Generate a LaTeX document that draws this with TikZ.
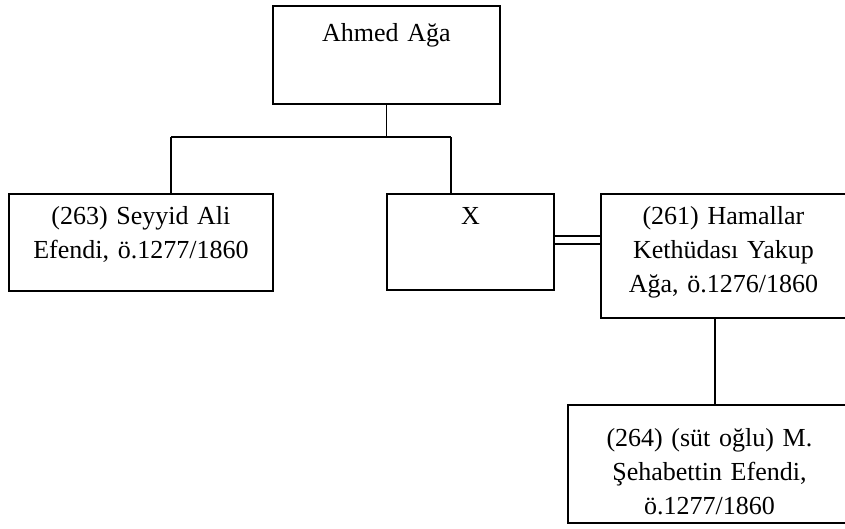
\documentclass[tikz,border=0pt]{standalone}
\usepackage{fontspec}
\setmainfont{Liberation Serif}
\usepackage{tikz}
\usetikzlibrary{positioning}
\tikzset{
    %Define style for family boxes
    kisi/.style={
           rectangle,
           draw=black,
           line width=1.8pt,
           anchor=north west,
           inner xsep=0pt,
           inner ysep=0pt,
           align=center,
           font=\fontsize{26}{34}\selectfont},
    % Define line style
    bag/.style={
           line width=1.8pt},
    evli/.style={
           line width=1.8pt,
           double,
           double distance=6.7pt}
}

\begin{document}
\begin{tikzpicture}[x=1pt,y=-1pt]
\useasboundingbox (0,0) rectangle (845,528);
\node[kisi, text width=227pt, text height=36pt, text depth=62pt](ahmed) at (272,5){Ahmed Ağa};
\node[kisi, text width=264pt, text height=31pt, text depth=66pt](seyyid) at (8,193){(263) Seyyid Ali\\Efendi, ö.1277/1860};
\node[kisi, text width=167pt, text height=31pt, text depth=65pt](x) at (386,193){X};
\node[kisi, text width=245pt, text height=31pt, text depth=93pt](yakup) at (600,193){(261) Hamallar\\Kethüdası Yakup\\Ağa, ö.1276/1860};
\node[kisi, text width=283pt, text height=42pt, text depth=76pt](sehab) at (567,404){(264) (süt oğlu) M.\\Şehabettin Efendi,\\ö.1277/1860};
\coordinate (sol) at (171,137);
\coordinate (sag) at (451,137);
\path[bag]
	(ahmed.south) edge (ahmed.south |- sol)
	(sol) edge (sag)
	(sol) edge (sol |- seyyid.north)
	(sag) edge (sag |- x.north);
\draw[evli] ([yshift=2pt]x.east) -- ([yshift=2pt]x.east -| yakup.west);
\draw[bag] ([xshift=-8.5pt]yakup.south) -- ([xshift=-8.5pt]yakup.south |- sehab.north);
\end{tikzpicture}
\end{document}
